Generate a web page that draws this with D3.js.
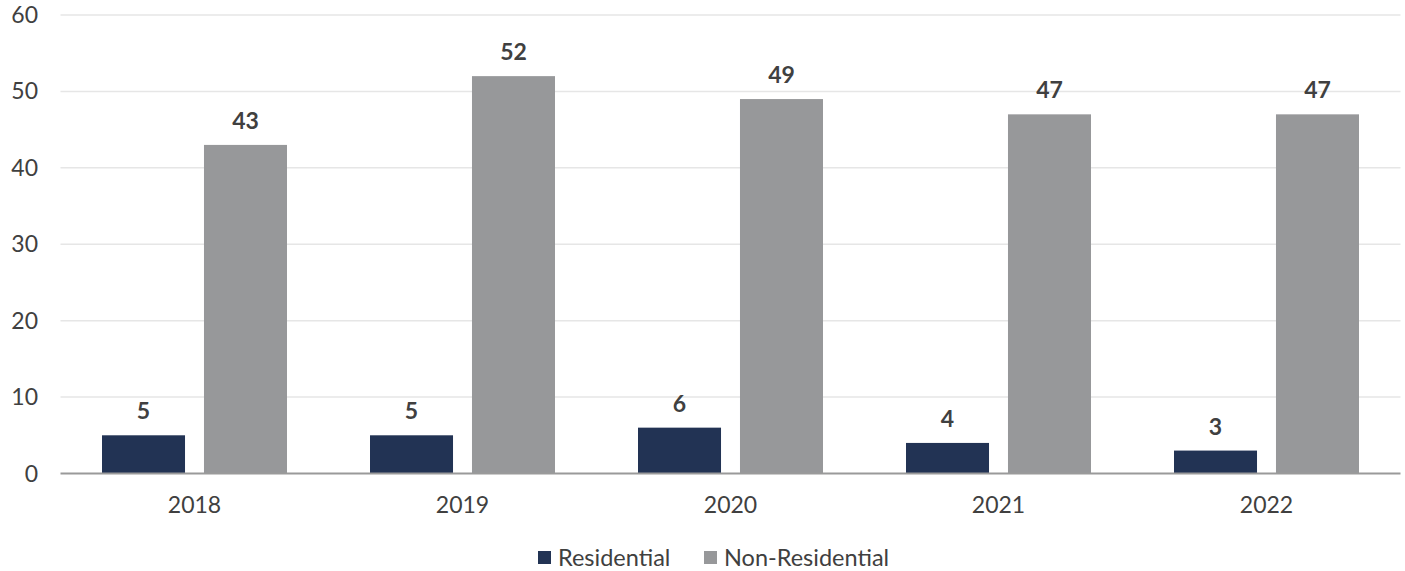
<!DOCTYPE html>
<html>
<head>
<meta charset="utf-8">
<script src="https://cdn.jsdelivr.net/npm/d3@7"></script>
<style>
  html, body { margin: 0; padding: 0; background: #fff; }
  svg { display: block; font-family: Lato, "Open Sans", sans-serif; }
</style>
</head>
<body>
<svg id="chart" width="1405" height="571"></svg>
<script>
const years = ["2018", "2019", "2020", "2021", "2022"];
const residential = [5, 5, 6, 4, 3];
const nonResidential = [43, 52, 49, 47, 47];
const seriesNames = ["Residential", "Non-Residential"];
const seriesColors = ["#223354", "#97989a"];
const yTicks = [0, 10, 20, 30, 40, 50, 60];

const svg = d3.select("#chart");
const margin = { left: 60.5, right: 4.5, top: 15, bottom: 97.5 };
const W = 1405, H = 571;

const x = d3.scaleBand().domain(years).range([margin.left, W - margin.right]).padding(0);
const x1 = d3.scaleBand().domain(seriesNames).range([0, x.bandwidth()]).paddingInner(0.186).paddingOuter(0.407);
const y = d3.scaleLinear().domain([0, 60]).range([H - margin.bottom, margin.top]);

// gridlines
svg.append("g")
  .selectAll("line")
  .data(yTicks.filter(d => d > 0))
  .join("line")
  .attr("x1", margin.left).attr("x2", W - margin.right)
  .attr("y1", d => y(d)).attr("y2", d => y(d))
  .attr("stroke", "#e6e6e6").attr("stroke-width", 1.5);

// y tick labels
svg.append("g")
  .selectAll("text")
  .data(yTicks)
  .join("text")
  .attr("x", 38).attr("y", d => y(d))
  .attr("dy", "0.35em")
  .attr("text-anchor", "end")
  .attr("font-size", 23)
  .attr("fill", "#404040")
  .text(d => d);

const rows = years.map((yr, i) => ({ year: yr, values: [residential[i], nonResidential[i]] }));

const groups = svg.append("g").selectAll("g")
  .data(rows)
  .join("g")
  .attr("transform", d => `translate(${x(d.year)},0)`);

groups.selectAll("rect")
  .data(d => d.values.map((v, k) => ({ name: seriesNames[k], value: v, k })))
  .join("rect")
  .attr("x", d => x1(d.name))
  .attr("width", x1.bandwidth())
  .attr("y", d => y(d.value))
  .attr("height", d => y(0) - y(d.value))
  .attr("fill", d => seriesColors[d.k]);

groups.selectAll("text.val")
  .data(d => d.values.map((v, k) => ({ name: seriesNames[k], value: v })))
  .join("text")
  .attr("class", "val")
  .attr("x", d => x1(d.name) + x1.bandwidth() / 2)
  .attr("y", d => y(d.value) - 16)
  .attr("text-anchor", "middle")
  .attr("font-size", 23)
  .attr("font-weight", "bold")
  .attr("fill", "#404040")
  .text(d => d.value);

// baseline
svg.append("line")
  .attr("x1", margin.left).attr("x2", W - margin.right)
  .attr("y1", y(0)).attr("y2", y(0))
  .attr("stroke", "#9a9a9a").attr("stroke-width", 2);

// x labels
svg.append("g").selectAll("text")
  .data(years)
  .join("text")
  .attr("x", d => x(d) + x.bandwidth() / 2)
  .attr("y", y(0) + 39)
  .attr("text-anchor", "middle")
  .attr("font-size", 23)
  .attr("fill", "#404040")
  .text(d => d);

// legend
const legendItems = [
  { name: seriesNames[0], color: seriesColors[0], x: 538 },
  { name: seriesNames[1], color: seriesColors[1], x: 704 }
];
const lg = svg.append("g").selectAll("g").data(legendItems).join("g")
  .attr("transform", d => `translate(${d.x},0)`);
lg.append("rect").attr("x", 0).attr("y", 551).attr("width", 13).attr("height", 13).attr("fill", d => d.color);
lg.append("text").attr("x", 20).attr("y", 566)
  .attr("font-size", 23.5).attr("fill", "#404040")
  .text(d => d.name);
</script>
</body>
</html>
